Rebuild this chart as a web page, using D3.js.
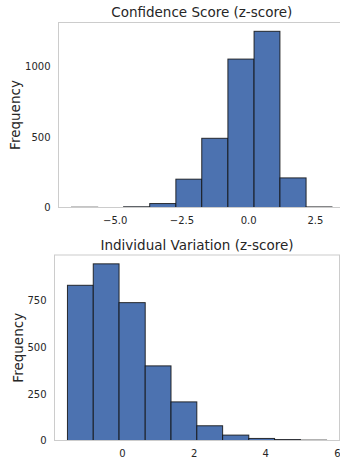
<!DOCTYPE html>
<html>
<head>
<meta charset="utf-8">
<script src="https://cdn.jsdelivr.net/npm/d3@7"></script>
<style>
  body { margin: 0; background: #fff; }
  svg { display: block; font-family: "DejaVu Sans", sans-serif; }
  .tick-label { font-size: 10px; fill: #262626; }
  .title, .ylabel { font-size: 13.5px; fill: #262626; }
</style>
</head>
<body>
<div class="canvas"></div>
<script>
// Confidence Score (z-score) histogram
const confEdges = [-6.62, -5.64, -4.67, -3.69, -2.71, -1.74, -0.76, 0.22, 1.19, 2.17, 3.14];
const confCounts = [2, 0, 5, 28, 201, 491, 1053, 1250, 210, 4];
const confXTicks = [-5, -2.5, 0, 2.5];
const confYTicks = [0, 500, 1000];

// Individual Variation (z-score) histogram
const indivEdges = [-1.52, -0.80, -0.08, 0.65, 1.37, 2.09, 2.81, 3.54, 4.26, 4.98, 5.71];
const indivCounts = [832, 947, 739, 400, 207, 79, 29, 11, 5, 2];
const indivXTicks = [0, 2, 4, 6];
const indivYTicks = [0, 250, 500, 750];

const svg = d3
  .select(".canvas")
  .append("svg")
  .attr("width", 340)
  .attr("height", 462);

const drawHist = (opts) => {
  const { box, edges, counts, xTicks, yTicks, xFmt, title, ylabelX } = opts;
  const bins = counts.map((c, i) => ({ x0: edges[i], x1: edges[i + 1], n: c }));

  const lo = edges[0], hi = edges[edges.length - 1];
  const pad = (hi - lo) * 0.05;
  const x = d3.scaleLinear().domain([lo - pad, hi + pad]).range([box.l, box.r]);
  const y = d3.scaleLinear().domain([0, d3.max(counts) * 1.05]).range([box.b, box.t]);

  const g = svg.append("g");

  // bars
  g.selectAll("rect.bar")
    .data(bins)
    .enter()
    .append("rect")
    .attr("class", "bar")
    .attr("x", d => x(d.x0))
    .attr("width", d => x(d.x1) - x(d.x0))
    .attr("y", d => y(d.n))
    .attr("height", d => y(0) - y(d.n))
    .attr("fill", "#4c72b0")
    .attr("stroke", "#111")
    .attr("stroke-opacity", d => (d.n > 0 ? 0.85 : 0))
    .attr("stroke-width", 1);

  // frame
  g.append("rect")
    .attr("x", box.l)
    .attr("y", box.t)
    .attr("width", box.r - box.l)
    .attr("height", box.b - box.t)
    .attr("fill", "none")
    .attr("stroke", "#cccccc")
    .attr("stroke-width", 1);

  // axes without tick marks
  const xAxis = d3.axisBottom(x).tickValues(xTicks).tickSize(0).tickPadding(0).tickFormat(xFmt);
  const xg = g.append("g").attr("transform", `translate(0, ${box.b})`).call(xAxis);
  xg.select(".domain").remove();
  xg.selectAll("text")
    .attr("class", "tick-label")
    .attr("dy", null)
    .attr("y", 16.5);

  const yAxis = d3.axisLeft(y).tickValues(yTicks).tickSize(0).tickPadding(8).tickFormat(d3.format("d"));
  const yg = g.append("g").attr("transform", `translate(${box.l}, 0)`).call(yAxis);
  yg.select(".domain").remove();
  yg.selectAll("text").attr("class", "tick-label");
  xg.attr("font-family", null).attr("font-size", null);
  yg.attr("font-family", null).attr("font-size", null);

  g.append("text")
    .attr("class", "title")
    .attr("x", (box.l + box.r) / 2)
    .attr("y", box.t - 5.5)
    .attr("text-anchor", "middle")
    .text(title);

  g.append("text")
    .attr("class", "ylabel")
    .attr("transform", `translate(${ylabelX}, ${(box.t + box.b) / 2}) rotate(-90)`)
    .attr("text-anchor", "middle")
    .text("Frequency");
};

drawHist({
  box: { l: 58.5, r: 345, t: 22.5, b: 207.5 },
  edges: confEdges,
  counts: confCounts,
  xTicks: confXTicks,
  yTicks: confYTicks,
  xFmt: d3.format(".1f"),
  title: "Confidence Score (z-score)",
  ylabelX: 20
});

drawHist({
  box: { l: 54.5, r: 339.5, t: 255, b: 440.5 },
  edges: indivEdges,
  counts: indivCounts,
  xTicks: indivXTicks,
  yTicks: indivYTicks,
  xFmt: d3.format("d"),
  title: "Individual Variation (z-score)",
  ylabelX: 22.5
});
</script>
</body>
</html>
